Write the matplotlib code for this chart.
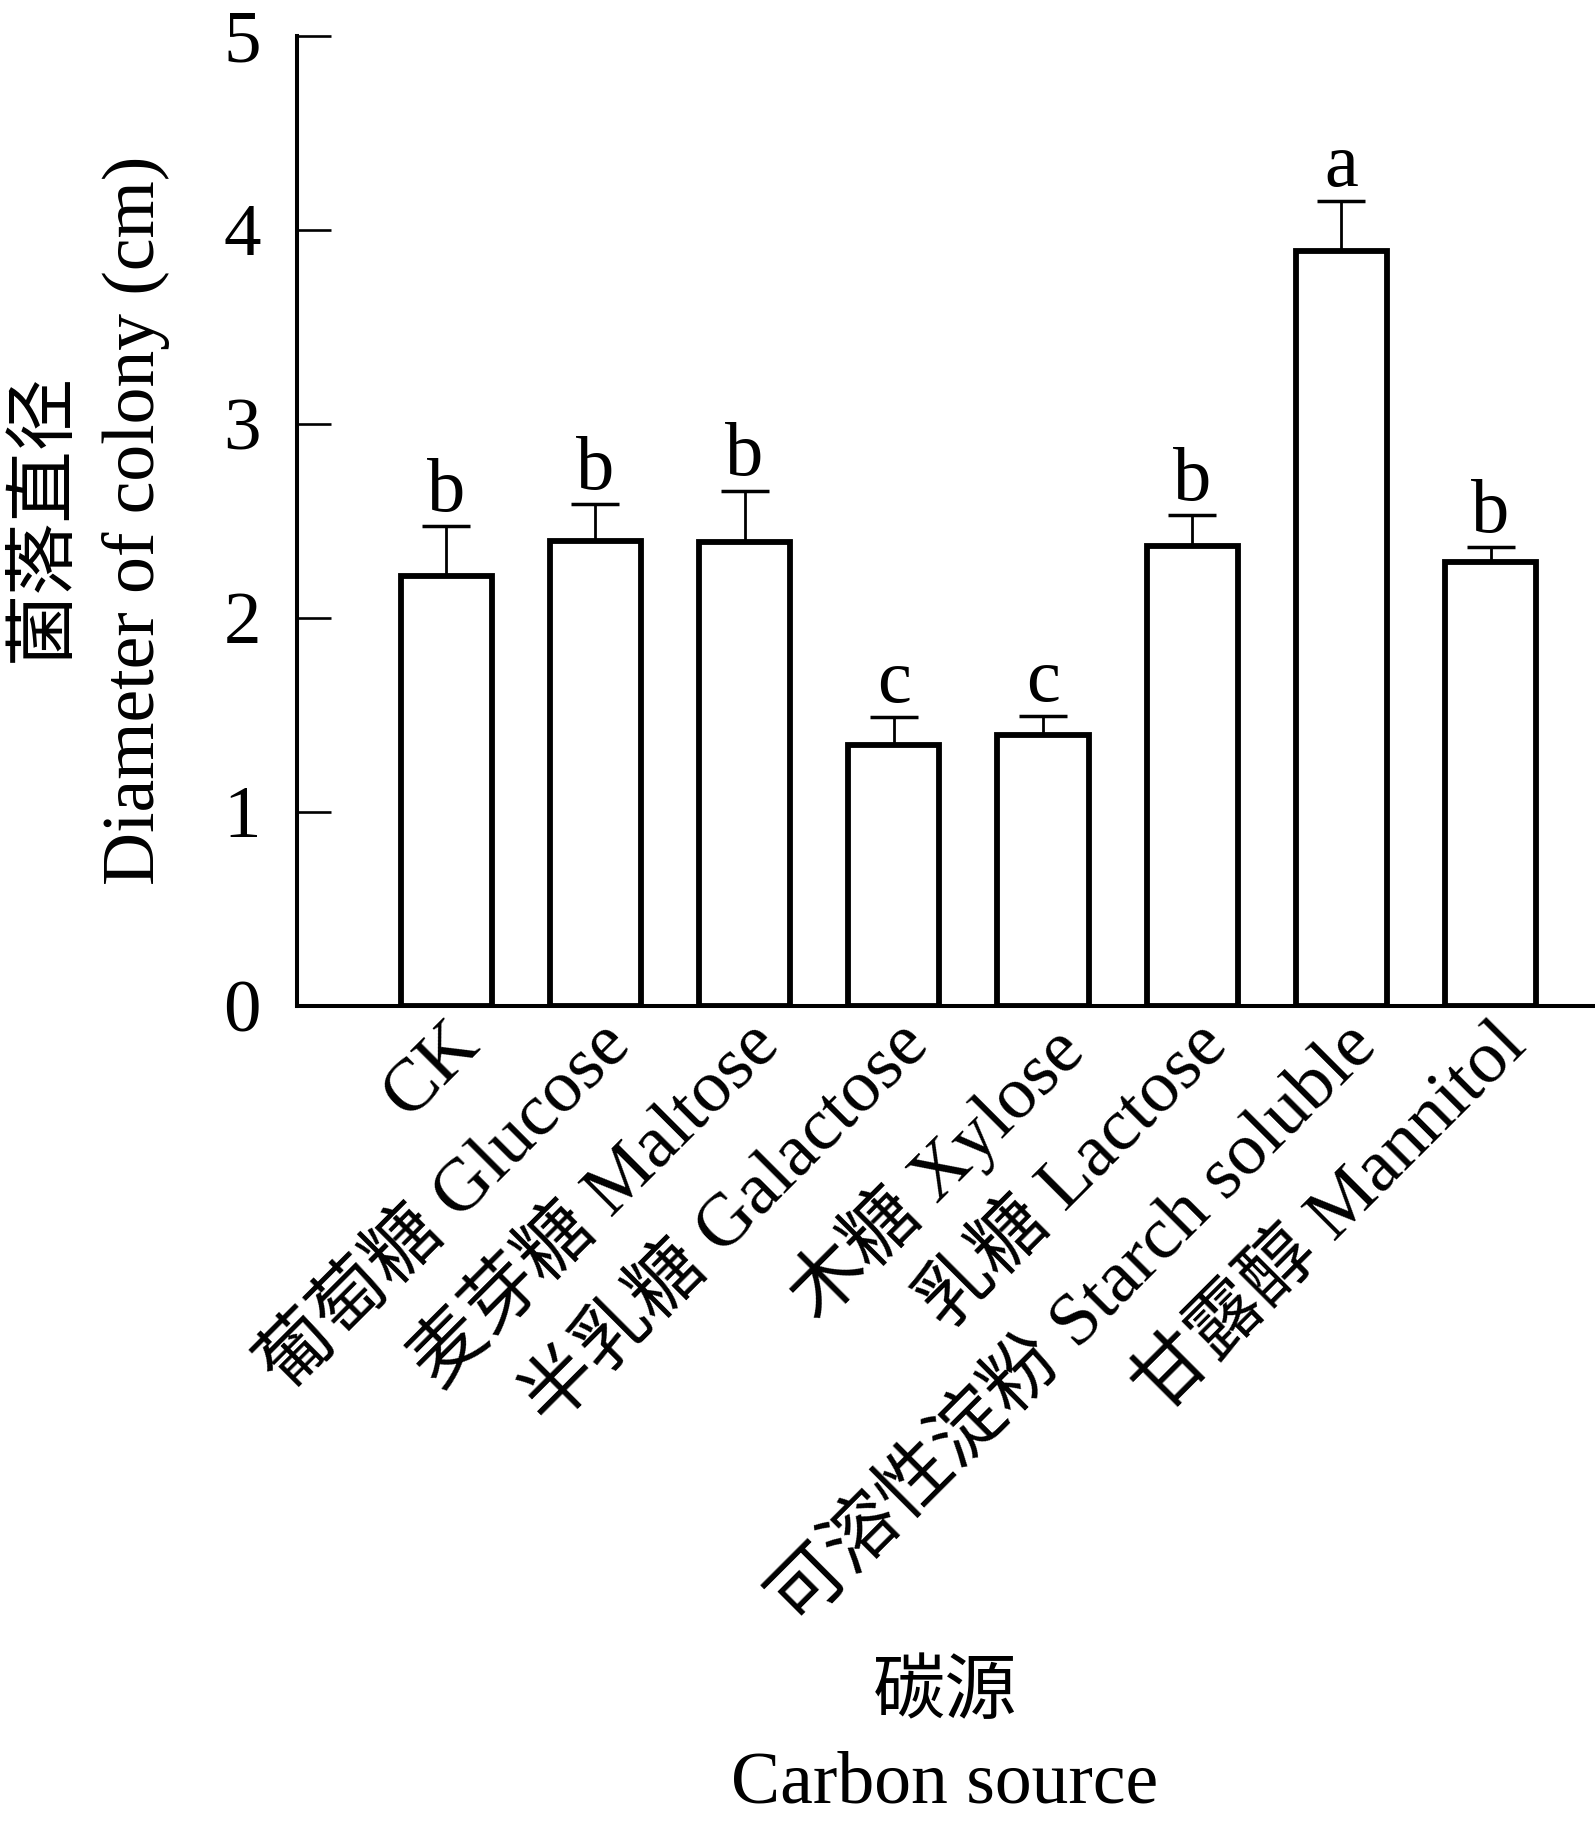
import matplotlib
matplotlib.use("Agg")
import matplotlib.pyplot as plt
import numpy as np

plt.rcParams['font.family'] = ['Liberation Serif', 'Noto Sans CJK SC', 'DejaVu Sans']

categories = ["CK", "葡萄糖 Glucose", "麦芽糖 Maltose", "半乳糖 Galactose",
              "木糖 Xylose", "乳糖 Lactose", "可溶性淀粉 Starch soluble", "甘露醇 Mannitol"]
means = [2.215, 2.397, 2.390, 1.344, 1.395, 2.371, 3.890, 2.287]
errors = [0.258, 0.188, 0.265, 0.143, 0.097, 0.158, 0.256, 0.076]
letters = ["b", "b", "b", "c", "c", "b", "a", "b"]
yticks = [0, 1, 2, 3, 4, 5]

W, H = 1595, 1828
fig = plt.figure(figsize=(W / 100, H / 100), dpi=100)
ax = fig.add_axes([297 / W, 1 - 1005.7 / H, 1 - 297 / W, (1005.7 - 35.7) / H])

x = np.arange(1, len(categories) + 1)
ax.bar(x, means, width=0.61, color='white', edgecolor='black', linewidth=4.2, zorder=3)
ax.errorbar(x, means, yerr=[np.zeros(len(errors)), errors], fmt='none',
            ecolor='black', elinewidth=2.0, capsize=17, capthick=2.5, zorder=2)

for xi, m, e, l in zip(x, means, errors, letters):
    ax.annotate(l, xy=(xi, m + e), xytext=(0, 11), textcoords='offset points',
                ha='center', va='baseline', fontsize=55)

ax.set_xlim(0, (W - 297) / 149.2)
ax.set_ylim(0, 5)
ax.set_yticks(yticks)
ax.set_yticklabels([str(t) for t in yticks], fontsize=54)
ax.set_xticks(x)
ax.set_xticklabels(categories, fontsize=54, rotation=45, ha='right', va='top',
                   rotation_mode='anchor')

for s in ['top', 'right']:
    ax.spines[s].set_visible(False)
for s in ['left', 'bottom']:
    ax.spines[s].set_linewidth(2.9)
    ax.spines[s].set_color('black')

ax.tick_params(axis='y', direction='in', length=24.5, width=1.9, pad=26)
ax.tick_params(axis='x', direction='in', length=17, width=1.9, pad=3)

fig.text(44 / W, 1 - 518 / H, "菌落直径", rotation=90, ha='center', va='center', fontsize=52)
fig.text(136 / W, 1 - 520 / H, "Diameter of colony (cm)", rotation=90,
         ha='center', va='center', fontsize=53)
fig.text(945 / W, 1 - 1695 / H, "碳源", ha='center', va='center', fontsize=52)
fig.text(945 / W, 1 - 1785 / H, "Carbon source", ha='center', va='center', fontsize=53)

fig.savefig("out.png", dpi=100, facecolor='white')
